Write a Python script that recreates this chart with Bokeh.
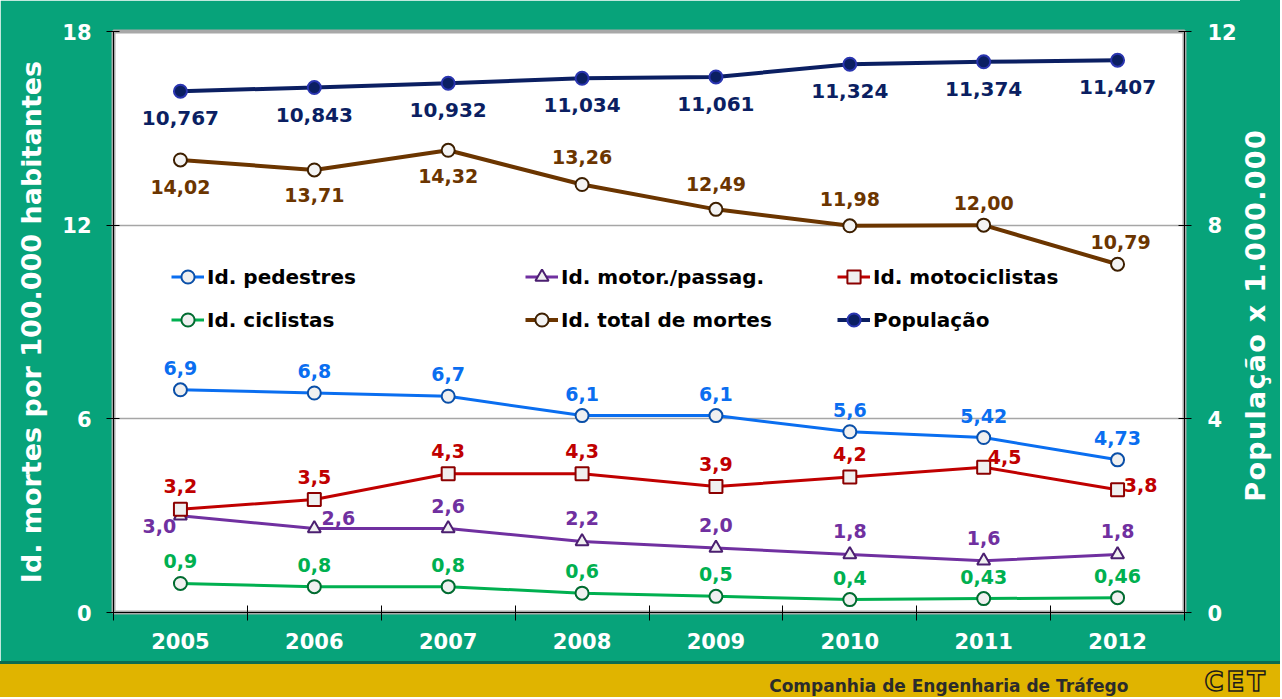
from bokeh.plotting import figure
from bokeh.models import (Range1d, LinearAxis, FixedTicker, ColumnDataSource, LabelSet,
                          Legend, LegendItem, Div)
from bokeh.core.properties import value
from bokeh.layouts import column, row
from bokeh.embed import file_html
from bokeh.resources import INLINE

# ---------------- data ----------------
years = [2005, 2006, 2007, 2008, 2009, 2010, 2011, 2012]
pedestres = [6.9, 6.8, 6.7, 6.1, 6.1, 5.6, 5.42, 4.73]
motor_passag = [3.0, 2.6, 2.6, 2.2, 2.0, 1.8, 1.6, 1.8]
motociclistas = [3.2, 3.5, 4.3, 4.3, 3.9, 4.2, 4.5, 3.8]
ciclistas = [0.9, 0.8, 0.8, 0.6, 0.5, 0.4, 0.43, 0.46]
total_mortes = [14.02, 13.71, 14.32, 13.26, 12.49, 11.98, 12.00, 10.79]
populacao = [10.767, 10.843, 10.932, 11.034, 11.061, 11.324, 11.374, 11.407]

pedestres_txt = ["6,9", "6,8", "6,7", "6,1", "6,1", "5,6", "5,42", "4,73"]
motor_txt = ["3,0", "2,6", "2,6", "2,2", "2,0", "1,8", "1,6", "1,8"]
moto_txt = ["3,2", "3,5", "4,3", "4,3", "3,9", "4,2", "4,5", "3,8"]
ciclistas_txt = ["0,9", "0,8", "0,8", "0,6", "0,5", "0,4", "0,43", "0,46"]
total_txt = ["14,02", "13,71", "14,32", "13,26", "12,49", "11,98", "12,00", "10,79"]
pop_txt = ["10,767", "10,843", "10,932", "11,034", "11,061", "11,324", "11,374", "11,407"]

left_ticks = [0, 6, 12, 18]
right_ticks = [0, 4, 8, 12]

left_title = "Id. mortes por 100.000 habitantes"
right_title = "População x 1.000.000"
footer_text = "Companhia de Engenharia de Tráfego"

# ---------------- styles ----------------
FONT = "DejaVu Sans"
GREEN_BG = "#07A37A"
C_PED = "#0A6EF0"
C_MOTOR = "#7030A0"
C_MOTO = "#C00000"
C_CIC = "#00B050"
C_TOT = "#6B3500"
C_POP = "#0B1F62"

# label offsets (screen px, right / up)
ped_dx = [0] * 8
ped_dy = [22] * 8
motor_dx = [-21, 24, 0, 0, 0, 0, 0, 0]
motor_dy = [-10, 11, 23, 23, 23, 23, 23, 23]
moto_dx = [0, 0, 0, 0, 0, 0, 21, 23]
moto_dy = [23, 23, 23, 23, 23, 23, 10, 5]
cic_dx = [0] * 8
cic_dy = [22] * 8
tot_dx = [0, 0, 0, 0, 0, 0, 0, 3]
tot_dy = [-27, -25, -26, 27, 25, 27, 22, 22]
pop_dx = [0] * 8
pop_dy = [-27] * 8

W = 1280
PW = 1240   # figure width; the right title sits in a strip next to it
H = 661
p = figure(width=PW, height=H, x_range=Range1d(2004.5, 2012.5), y_range=Range1d(0, 18),
           output_backend="svg", toolbar_location=None,
           min_border_left=113, min_border_right=PW - 1184, min_border_top=31, min_border_bottom=49)
p.extra_y_ranges = {"pop": Range1d(0, 12)}
p.border_fill_color = GREEN_BG
p.background_fill_color = "white"
p.outline_line_color = "#a8a8a8"
p.outline_line_width = 4

p.xgrid.visible = False
p.ygrid.ticker = FixedTicker(ticks=[6, 12])
p.ygrid.grid_line_color = "#a6a6a6"
p.ygrid.grid_line_width = 1.5

def style_axis(ax):
    ax.axis_line_color = "black"
    ax.axis_line_width = 1
    ax.major_tick_line_color = "black"
    ax.major_label_text_color = "white"
    ax.major_label_text_font = FONT
    ax.major_label_text_font_style = "bold"
    ax.major_label_text_font_size = "21px"
    ax.axis_label_text_color = "white"
    ax.axis_label_text_font = FONT
    ax.axis_label_text_font_style = "bold"
    ax.axis_label_text_font_size = "27px"

xa = p.xaxis[0]
style_axis(xa)
xa.ticker = FixedTicker(ticks=years, minor_ticks=[y - 0.5 for y in years] + [years[-1] + 0.5])
xa.major_tick_in = 0
xa.major_tick_out = 0
xa.minor_tick_in = 7
xa.minor_tick_out = 8
xa.minor_tick_line_color = "black"
xa.major_label_standoff = 12

ya = p.yaxis[0]
style_axis(ya)
ya.ticker = FixedTicker(ticks=left_ticks)
ya.minor_tick_line_color = None
ya.major_tick_in = 6
ya.major_tick_out = 7
ya.major_label_standoff = 15
ya.axis_label = left_title
ya.axis_label_standoff = 12

ra = LinearAxis(y_range_name="pop")
style_axis(ra)
ra.ticker = FixedTicker(ticks=right_ticks)
ra.minor_tick_line_color = None
ra.major_tick_in = 6
ra.major_tick_out = 7
ra.major_label_standoff = 16
p.add_layout(ra, "right")

series = [
    ("Id. pedestres", pedestres, pedestres_txt, ped_dx, ped_dy, C_PED, "circle", "#f0f0f0", "#0a4fa8", 3, None),
    ("Id. motor./passag.", motor_passag, motor_txt, motor_dx, motor_dy, C_MOTOR, "triangle", "#f0f0f0", "#4b1f70", 3, None),
    ("Id. motociclistas", motociclistas, moto_txt, moto_dx, moto_dy, C_MOTO, "square", "#f0f0f0", "#8B0000", 3, None),
    ("Id. ciclistas", ciclistas, ciclistas_txt, cic_dx, cic_dy, C_CIC, "circle", "#f0f0f0", "#006B30", 3, None),
    ("Id. total de mortes", total_mortes, total_txt, tot_dx, tot_dy, C_TOT, "circle", "#f4f4f4", "#3d1f00", 4, None),
    ("População", populacao, pop_txt, pop_dx, pop_dy, C_POP, "circle", C_POP, "#2a35b0", 4, "pop"),
]

items = []
for name, vals, txt, dx, dy, col, mk, fill, mline, lw, rng in series:
    src = ColumnDataSource(dict(x=years, y=vals, text=txt, dx=dx, dy=dy))
    kw = {"y_range_name": rng} if rng else {}
    ln = p.line("x", "y", source=src, line_color=col, line_width=lw, **kw)
    sc = p.scatter("x", "y", source=src, marker=mk, size=13, fill_color=fill,
                   line_color=mline, line_width=2, **kw)
    lbl = LabelSet(x="x", y="y", text="text", source=src, x_offset="dx", y_offset="dy",
                   text_align="center", text_baseline="middle", text_color=col,
                   text_font=value(FONT), text_font_style="bold",
                   text_font_size="20px" if rng else "19px", **kw)
    p.add_layout(lbl)
    items.append(LegendItem(label=name, renderers=[ln, sc]))

# legend: three columns (row 1: items 0,1,2 ; row 2: items 3,4,5)
col_x = [58, 412, 724]
for c in range(3):
    lg = Legend(items=[items[c], items[c + 3]], orientation="vertical", location=(col_x[c], 276),
                glyph_width=33, glyph_height=33, label_standoff=3,
                spacing=10, padding=0, margin=0,
                background_fill_alpha=0, border_line_color=None,
                label_text_font=FONT, label_text_font_style="bold",
                label_text_font_size="20px", label_text_color="black")
    p.add_layout(lg, "center")

# right axis title strip (text reads bottom-to-top)
right_strip = Div(
    text=('<div style="width:%dpx;height:%dpx;display:flex;align-items:center;justify-content:center;'
          'box-sizing:border-box;padding-bottom:30px;padding-right:8px;">'
          '<span style="writing-mode:vertical-rl;transform:rotate(180deg);white-space:nowrap;'
          'font-family:\'DejaVu Sans\';font-weight:bold;font-size:27px;letter-spacing:1.3px;'
          'color:white;">%s</span></div>') % (W - PW, H, right_title),
    width=W - PW, height=H, margin=0,
    styles={"background-color": GREEN_BG, "overflow": "hidden"})

footer = Div(
    text=('<div style="display:flex;justify-content:flex-end;align-items:center;height:33px;'
          'width:%dpx;overflow:hidden;">'
          '<span style="font-family:\'DejaVu Sans\';font-weight:bold;font-size:17px;color:#2b2b2b;'
          'line-height:20px;margin-right:76px;margin-top:10px;">%s</span>'
          '<span style="font-family:\'DejaVu Sans\';font-weight:bold;font-size:26px;'
          'color:#E0B400;-webkit-text-stroke:1.5px #1a1a1a;line-height:28px;letter-spacing:3px;'
          'margin-right:12px;margin-top:2px;">CET</span>'
          '</div>') % (W, footer_text),
    width=W, height=36, margin=0,
    styles={"background-color": "#E0B400", "border-top": "3px solid #0b6b50", "box-sizing": "border-box",
            "overflow": "hidden"})

layout = column(row(p, right_strip, spacing=0), footer, spacing=0)
open("out.html", "w").write(file_html(layout, INLINE))
